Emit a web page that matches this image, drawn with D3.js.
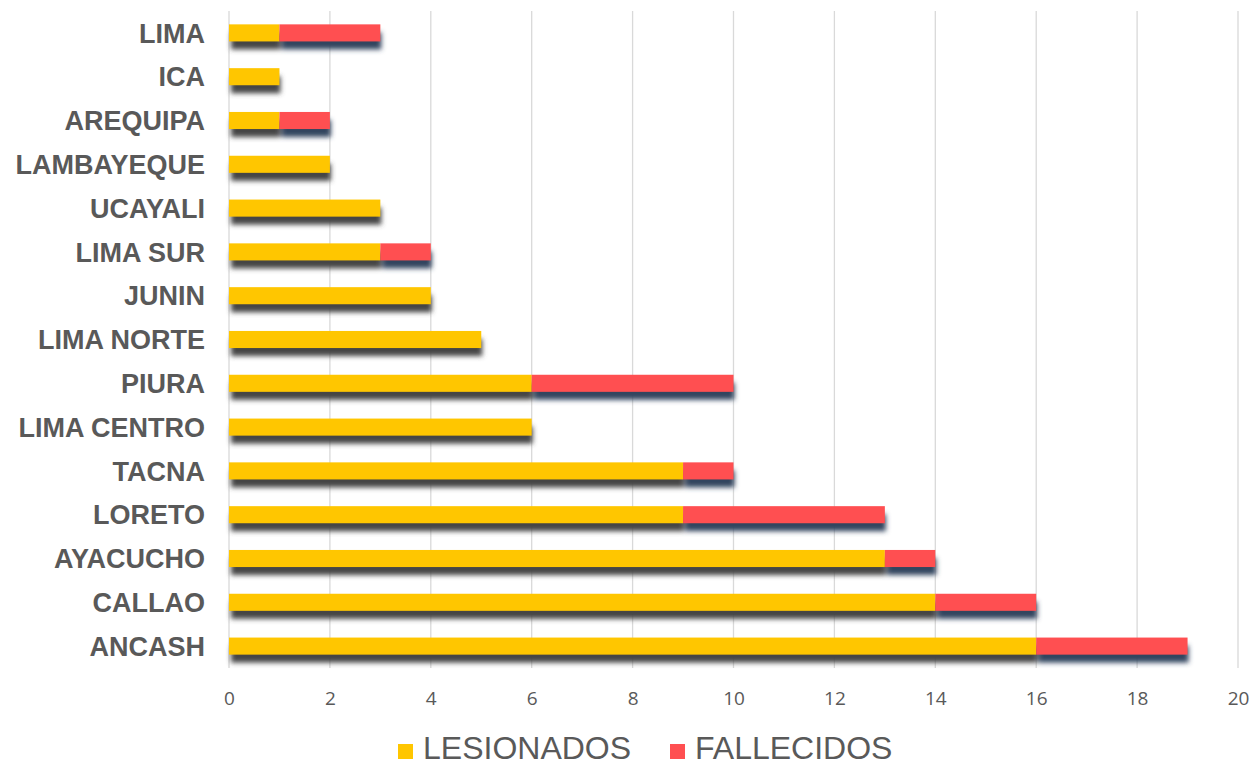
<!DOCTYPE html>
<html><head><meta charset="utf-8">
<script src="https://cdn.jsdelivr.net/npm/d3@7"></script>
<style>body{margin:0;background:#fff}svg{display:block}</style>
</head><body>
<script>
const categories = ["LIMA","ICA","AREQUIPA","LAMBAYEQUE","UCAYALI","LIMA SUR","JUNIN","LIMA NORTE","PIURA","LIMA CENTRO","TACNA","LORETO","AYACUCHO","CALLAO","ANCASH"];
const lesionados = [1,1,1,2,3,3,4,5,6,6,9,9,13,14,16];
const fallecidos = [2,0,1,0,0,1,0,0,4,0,1,4,1,2,3];
const seriesNames = ["LESIONADOS","FALLECIDOS"];
const xTicks = [0,2,4,6,8,10,12,14,16,18,20];

const W = 1255, H = 767;
const colors = ["#FFC600","#FF4F51"];
const shadowColors = ["#454545","#33445f"];
const svg = d3.select("body").append("svg").attr("width",W).attr("height",H);

const defs = svg.append("defs");
defs.append("filter").attr("id","blur").attr("x","-20%").attr("y","-50%").attr("width","140%").attr("height","200%")
  .append("feGaussianBlur").attr("stdDeviation",2.4);

const x = d3.scaleLinear().domain([0,20]).range([229,1238]);
const y = d3.scaleBand().domain(categories).range([11,668]).paddingInner(0.61).paddingOuter(0.305);

// gridlines
svg.append("g").selectAll("line").data(xTicks).join("line")
  .attr("x1",d=>x(d)).attr("x2",d=>x(d)).attr("y1",11).attr("y2",668)
  .attr("stroke","#d9d9d9").attr("stroke-width",1.3);

const data = categories.map((c,i)=>({c, segs:[{s:0,x0:0,x1:lesionados[i]},{s:1,x0:lesionados[i],x1:lesionados[i]+fallecidos[i]}]}));
const segs = data.flatMap(d=>d.segs.filter(s=>s.x1>s.x0).map(s=>({...s,c:d.c})));

// shadows
svg.append("g").attr("filter","url(#blur)").selectAll("rect").data(segs).join("rect")
  .attr("x",d=>x(d.x0)+2).attr("y",d=>y(d.c)+8).attr("width",d=>x(d.x1)-x(d.x0)-1).attr("height",y.bandwidth())
  .attr("fill",d=>shadowColors[d.s]);

// bars
svg.append("g").selectAll("rect").data(segs).join("rect")
  .attr("x",d=>x(d.x0)).attr("y",d=>y(d.c)).attr("width",d=>x(d.x1)-x(d.x0)).attr("height",y.bandwidth())
  .attr("fill",d=>colors[d.s]);

// x axis
const xAxis = d3.axisBottom(x).tickValues(xTicks).tickSize(0).tickPadding(0);
const gx = svg.append("g").attr("transform","translate(0,691)").call(xAxis);
gx.select(".domain").remove();
gx.selectAll("text").attr("font-family","'Open Sans', sans-serif").attr("font-size",19).attr("fill","#595959").attr("dy","0.71em");

// y axis labels
const yAxis = d3.axisLeft(y).tickSize(0).tickPadding(0);
const gy = svg.append("g").attr("transform","translate(205,0)").call(yAxis);
gy.select(".domain").remove();
gy.selectAll("text").attr("font-family","'Liberation Sans', Arial, sans-serif").attr("font-weight","bold")
  .attr("font-size",27).attr("fill","#595959").attr("dy","0.36em");

// legend
const legendX = [398, 670];
const lg = svg.append("g").selectAll("g").data(seriesNames).join("g")
  .attr("transform",(d,i)=>`translate(${legendX[i]},0)`);
lg.append("rect").attr("x",0).attr("y",744).attr("width",15).attr("height",15).attr("fill",(d,i)=>colors[i]);
lg.append("text").attr("x",25).attr("y",759).text(d=>d)
  .attr("font-family","'Liberation Sans', Arial, sans-serif").attr("font-size",32).attr("fill","#595959");
</script>
</body></html>
